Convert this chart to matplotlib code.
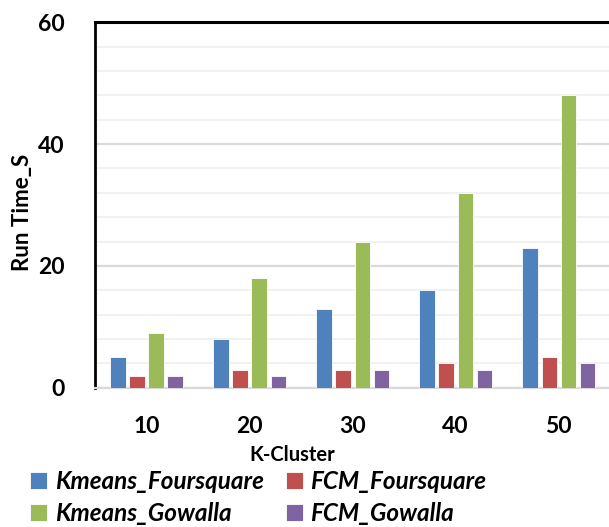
import numpy as np
import matplotlib.pyplot as plt

plt.rcParams['font.family'] = ['Lato', 'DejaVu Sans']

clusters = ['10', '20', '30', '40', '50']
series_names = ['Kmeans_Foursquare', 'FCM_Foursquare', 'Kmeans_Gowalla', 'FCM_Gowalla']
kmeans_foursquare = [5, 8, 13, 16, 23]
fcm_foursquare = [2, 3, 3, 4, 5]
kmeans_gowalla = [9, 18, 24, 32, 48]
fcm_gowalla = [2, 2, 3, 3, 4]

colors = ['#4F81BD', '#C0504D', '#9BBB59', '#8064A2']

fig = plt.figure(figsize=(6.09, 5.27), dpi=100)
ax = fig.add_axes([0.156, 0.264, 0.846, 0.694])

x = np.arange(len(clusters))
step = 0.185
width = 0.148
all_series = [kmeans_foursquare, fcm_foursquare, kmeans_gowalla, fcm_gowalla]
for i, (vals, name, c) in enumerate(zip(all_series, series_names, colors)):
    ax.bar(x + (i - 1.5) * step, vals, width, color=c, label=name,
           edgecolor='white', linewidth=0.6, zorder=3)

ax.set_xlim(-0.5, 4.5)
ax.set_ylim(0, 60)
ax.set_yticks([0, 20, 40, 60])
ax.set_yticks(np.arange(0, 61, 4), minor=True)
ax.grid(axis='y', which='minor', color='#efefef', linewidth=1.2, zorder=0)
ax.grid(axis='y', which='major', color='#d9d9d9', linewidth=1.6, zorder=0)
ax.set_xticks(x)
ax.set_xticklabels(clusters)
ax.tick_params(axis='both', which='both', length=0)
ax.tick_params(axis='x', pad=20, labelsize=16.5)
ax.tick_params(axis='y', pad=22, labelsize=16.5)
for lbl in ax.get_xticklabels() + ax.get_yticklabels():
    lbl.set_fontweight('bold')

ax.spines['right'].set_visible(False)
ax.spines['left'].set_color('black')
ax.spines['left'].set_linewidth(2)
ax.spines['top'].set_color('black')
ax.spines['top'].set_linewidth(2.2)
ax.spines['bottom'].set_color('#d9d9d9')
ax.spines['bottom'].set_linewidth(1.6)

ax.set_xlabel('K-Cluster', fontsize=14.5, fontweight='bold')
ax.xaxis.set_label_coords(0.383, -0.155)
ax.set_ylabel('Run Time_S', fontsize=16, fontweight='bold')
ax.yaxis.set_label_coords(-0.12, 0.48)

# legend fills column-wise, so interleave to get two series per row
handles, labels = ax.get_legend_handles_labels()
order = [0, 2, 1, 3]
fig.legend([handles[k] for k in order], [labels[k] for k in order], ncol=2,
           loc='upper left', bbox_to_anchor=(0.05, 0.108),
           frameon=False, prop={'size': 17.5, 'style': 'italic', 'weight': 'bold'},
           handlelength=0.7, handleheight=0.7, handletextpad=0.3,
           columnspacing=0.9, labelspacing=0.38, borderaxespad=0, borderpad=0)

fig.savefig('out.png', dpi=100)
